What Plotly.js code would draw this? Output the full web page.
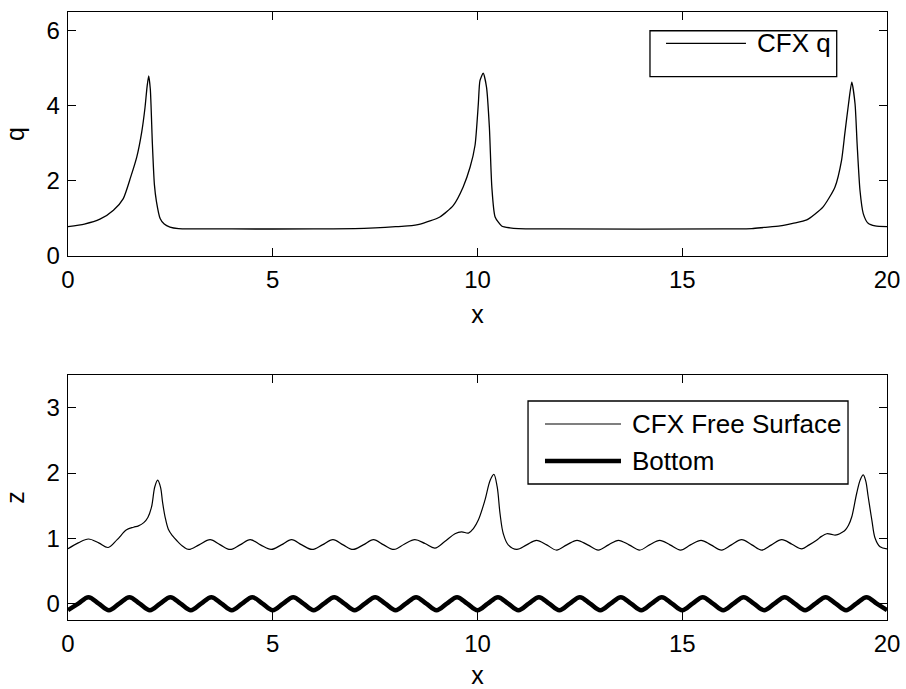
<!DOCTYPE html>
<html>
<head>
<meta charset="utf-8">
<script src="https://cdn.plot.ly/plotly-3.0.1.min.js"></script>
<style>html,body{margin:0;padding:0;background:#fff;}#chart{width:906px;height:689px;}</style>
</head>
<body>
<div id="chart"></div>
<script>
// ---- data ----
const qX = [0, 0.4, 0.78, 1.11, 1.35, 1.53, 1.68, 1.80, 1.88, 1.93, 1.97, 2.01, 2.06, 2.11, 2.16, 2.25, 2.35, 2.49, 2.7, 4.0, 6.0, 7.0, 7.5, 8.0, 8.3, 8.6, 9.08, 9.41, 9.65, 9.82, 9.94, 10.02, 10.06, 10.14, 10.22, 10.29, 10.35, 10.43, 10.59, 10.79, 11.0, 12.0, 16.0, 16.7, 17.0, 17.39, 17.7, 18.04, 18.44, 18.73, 18.89, 18.97, 19.06, 19.14, 19.22, 19.27, 19.34, 19.42, 19.54, 19.71, 20];
const qY = [0.78, 0.85, 0.98, 1.22, 1.53, 2.1, 2.64, 3.3, 3.95, 4.5, 4.80, 4.45, 3.0, 1.9, 1.45, 1.0, 0.85, 0.77, 0.73, 0.72, 0.72, 0.73, 0.75, 0.78, 0.80, 0.85, 1.04, 1.35, 1.84, 2.37, 2.95, 4.05, 4.67, 4.87, 4.5, 3.43, 1.84, 1.04, 0.80, 0.75, 0.73, 0.72, 0.72, 0.73, 0.76, 0.80, 0.87, 0.96, 1.31, 1.84, 2.55, 3.26, 4.05, 4.63, 4.05, 2.99, 1.75, 1.13, 0.87, 0.80, 0.78];

const fsX = [0, 0.25, 0.5, 0.75, 0.98, 1.2, 1.43, 1.6, 1.72, 1.85, 1.95, 2.04, 2.12, 2.19, 2.26, 2.31, 2.37, 2.45, 2.55, 2.65, 2.82, 2.95,
  3.2, 3.47, 3.72, 3.96, 4.2, 4.45, 4.7, 4.96, 5.21, 5.46, 5.71, 5.96, 6.21, 6.47, 6.72, 6.96, 7.21, 7.46, 7.71, 7.96, 8.21, 8.47, 8.72, 8.96,
  9.2, 9.45, 9.61, 9.78, 9.9, 10.02, 10.18, 10.31, 10.40, 10.48, 10.55, 10.63, 10.75, 10.96,
  11.2, 11.44, 11.69, 11.93, 12.18, 12.43, 12.69, 12.95, 13.2, 13.44, 13.7, 13.96, 14.2, 14.45, 14.7, 14.96, 15.2, 15.46, 15.7, 15.96, 16.2, 16.45, 16.7, 16.94, 17.18, 17.43, 17.68, 17.92,
  18.1, 18.28, 18.4, 18.53, 18.65, 18.73, 18.81, 18.9, 18.97, 19.06, 19.14, 19.26, 19.35, 19.42, 19.48, 19.54, 19.63, 19.71, 19.83, 20];
const fsZ = [0.84, 0.93, 0.99, 0.93, 0.86, 0.98, 1.13, 1.17, 1.19, 1.24, 1.32, 1.48, 1.79, 1.89, 1.78, 1.55, 1.33, 1.14, 1.04, 0.97, 0.87, 0.83,
  0.90, 0.98, 0.90, 0.83, 0.90, 0.98, 0.90, 0.83, 0.90, 0.98, 0.90, 0.83, 0.90, 0.98, 0.90, 0.83, 0.90, 0.98, 0.90, 0.83, 0.91, 0.98, 0.92, 0.85,
  0.95, 1.07, 1.10, 1.08, 1.15, 1.28, 1.58, 1.89, 1.98, 1.79, 1.38, 1.07, 0.90, 0.83,
  0.90, 0.97, 0.90, 0.82, 0.90, 0.97, 0.90, 0.82, 0.90, 0.97, 0.90, 0.82, 0.90, 0.97, 0.90, 0.82, 0.90, 0.97, 0.90, 0.82, 0.90, 0.98, 0.90, 0.82, 0.90, 0.98, 0.91, 0.84,
  0.90, 0.97, 1.03, 1.07, 1.06, 1.05, 1.06, 1.09, 1.12, 1.20, 1.33, 1.69, 1.90, 1.97, 1.88, 1.64, 1.28, 1.00, 0.87, 0.84];

const bottomX = [0, 0.25, 0.5, 0.75, 1, 1.25, 1.5, 1.75, 2, 2.25, 2.5, 2.75, 3, 3.25, 3.5, 3.75, 4, 4.25, 4.5, 4.75, 5, 5.25, 5.5, 5.75, 6, 6.25, 6.5, 6.75, 7, 7.25, 7.5, 7.75, 8, 8.25, 8.5, 8.75, 9, 9.25, 9.5, 9.75, 10, 10.25, 10.5, 10.75, 11, 11.25, 11.5, 11.75, 12, 12.25, 12.5, 12.75, 13, 13.25, 13.5, 13.75, 14, 14.25, 14.5, 14.75, 15, 15.25, 15.5, 15.75, 16, 16.25, 16.5, 16.75, 17, 17.25, 17.5, 17.75, 18, 18.25, 18.5, 18.75, 19, 19.25, 19.5, 19.75, 20];
const bottomZ = [-0.1, 0, 0.1, 0, -0.1, 0, 0.1, 0, -0.1, 0, 0.1, 0, -0.1, 0, 0.1, 0, -0.1, 0, 0.1, 0, -0.1, 0, 0.1, 0, -0.1, 0, 0.1, 0, -0.1, 0, 0.1, 0, -0.1, 0, 0.1, 0, -0.1, 0, 0.1, 0, -0.1, 0, 0.1, 0, -0.1, 0, 0.1, 0, -0.1, 0, 0.1, 0, -0.1, 0, 0.1, 0, -0.1, 0, 0.1, 0, -0.1, 0, 0.1, 0, -0.1, 0, 0.1, 0, -0.1, 0, 0.1, 0, -0.1, 0, 0.1, 0, -0.1, 0, 0.1, 0, -0.1];

const xTicks = [0, 5, 10, 15, 20];
const qTicks = [0, 2, 4, 6];
const zTicks = [0, 1, 2, 3];
const seriesNames = ["CFX q", "CFX Free Surface", "Bottom"];

// ---- plot ----
const FONT = "Liberation Sans, Arial, Helvetica, sans-serif";
const traces = [
  {x: qX, y: qY, xaxis: "x", yaxis: "y", mode: "lines", name: seriesNames[0],
   line: {color: "#000", width: 1.3, shape: "spline", smoothing: 0.6}},
  {x: fsX, y: fsZ, xaxis: "x2", yaxis: "y2", mode: "lines", name: seriesNames[1],
   line: {color: "#000", width: 1.2, shape: "spline", smoothing: 1}},
  {x: bottomX, y: bottomZ, xaxis: "x2", yaxis: "y2", mode: "lines", name: seriesNames[2],
   line: {color: "#000", width: 4.5, shape: "spline", smoothing: 1}}
];

function xa(anchor) {
  return {anchor: anchor, domain: [0, 1], range: [0, 20], tickvals: xTicks, ticktext: xTicks.map(String),
    ticks: "inside", ticklen: 8, tickwidth: 1, tickcolor: "#000", showline: true, linecolor: "#000", linewidth: 1.3,
    mirror: "ticks", showgrid: false, zeroline: false, automargin: false, ticklabelstandoff: 2,
    tickfont: {family: FONT, size: 24, color: "#000"},
    title: {text: "x", font: {family: FONT, size: 25, color: "#000"}, standoff: 13}};
}
function ya(anchor, dom, rng, tv, t) {
  return {anchor: anchor, domain: dom, range: rng, tickvals: tv, ticktext: tv.map(String),
    ticks: "inside", ticklen: 8, tickwidth: 1, tickcolor: "#000", showline: true, linecolor: "#000", linewidth: 1.3,
    mirror: "ticks", showgrid: false, zeroline: false, automargin: false, ticklabelstandoff: 2,
    tickfont: {family: FONT, size: 24, color: "#000"},
    title: {text: t, font: {family: FONT, size: 25, color: "#000"}, standoff: 14}};
}

// legend drawn as boxes in paper coordinates
const legendShapes = [
  {type: "rect", xref: "paper", yref: "paper", x0: 0.7106, x1: 0.9386, y0: 0.8936, y1: 0.9692, line: {color: "#000", width: 1.3}, fillcolor: "#fff"},
  {type: "line", xref: "paper", yref: "paper", x0: 0.7302, x1: 0.8278, y0: 0.9485, y1: 0.9485, line: {color: "#000", width: 1.3}},
  {type: "rect", xref: "paper", yref: "paper", x0: 0.5617, x1: 0.9524, y0: 0.2237, y1: 0.3602, line: {color: "#000", width: 1.3}, fillcolor: "#fff"},
  {type: "line", xref: "paper", yref: "paper", x0: 0.5824, x1: 0.6752, y0: 0.3224, y1: 0.3224, line: {color: "#000", width: 1.2}},
  {type: "line", xref: "paper", yref: "paper", x0: 0.5824, x1: 0.6752, y0: 0.2615, y1: 0.2615, line: {color: "#000", width: 4.5}}
];
const legendText = [
  {text: seriesNames[0], x: 0.8388, y: 0.9485},
  {text: seriesNames[1], x: 0.6862, y: 0.3224},
  {text: seriesNames[2], x: 0.6862, y: 0.2615}
].map(a => ({text: a.text, x: a.x, y: a.y, xref: "paper", yref: "paper", xanchor: "left", yanchor: "middle",
  showarrow: false, font: {family: FONT, size: 26, color: "#000"}}));

const layout = {
  width: 906, height: 689,
  margin: {l: 68, r: 19, t: 12, b: 69},
  paper_bgcolor: "#fff", plot_bgcolor: "#fff",
  showlegend: false,
  xaxis: xa("y"),
  yaxis: ya("x", [0.5987, 1], [0, 6.5], qTicks, "q"),
  xaxis2: xa("y2"),
  yaxis2: ya("x2", [0, 0.40296], [-0.25, 3.5], zTicks, "z"),
  shapes: legendShapes,
  annotations: legendText
};

Plotly.newPlot("chart", traces, layout, {displayModeBar: false, staticPlot: true});
</script>
</body>
</html>
